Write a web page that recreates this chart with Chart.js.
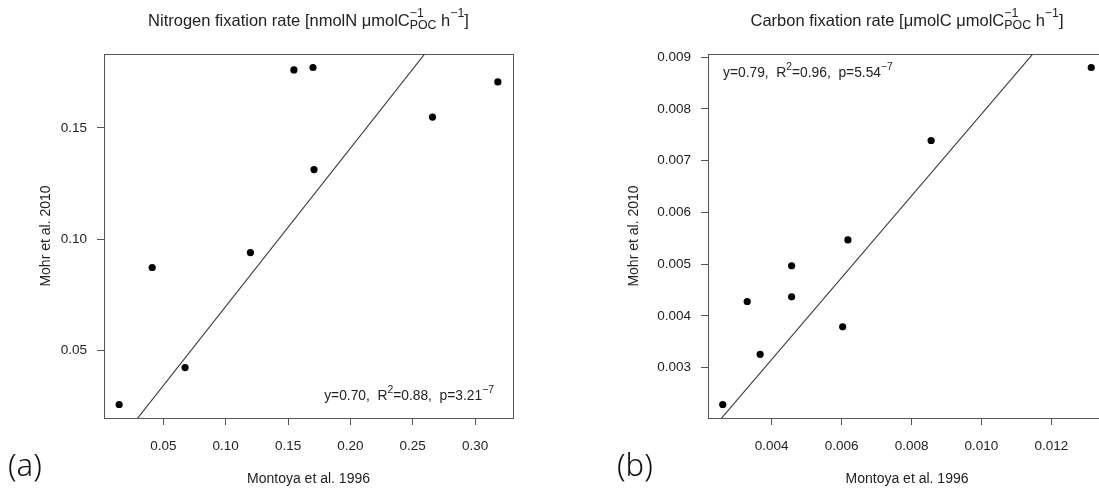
<!DOCTYPE html>
<html>
<head>
<meta charset="utf-8">
<script src="https://cdn.jsdelivr.net/npm/chart.js@4.4.1/dist/chart.umd.min.js"></script>
<style>
  html, body { margin: 0; padding: 0; background: #fff; overflow: hidden; }
  body { width: 1099px; height: 490px; position: relative; }
  .panel { position: absolute; top: 0; height: 490px; overflow: hidden; }
  #panelA { left: 0; width: 530px; }
  #panelB { left: 550px; width: 549px; }
  .tag { position: absolute; top: 449px; font-family: "Noto Sans", sans-serif; font-weight: 300; font-size: 31px; color: #111; line-height: 1; }
</style>
</head>
<body>
<div class="panel" id="panelA"><canvas id="chartA" width="530" height="490"></canvas></div>
<div class="panel" id="panelB"><canvas id="chartB" width="570" height="490"></canvas></div>
<div class="tag" style="left:8px">(a)</div>
<div class="tag" style="left:617px">(b)</div>
<script>
// (a) nitrogen fixation, Montoya et al. 1996 vs Mohr et al. 2010
const montoyaN = [0.0145, 0.041, 0.0674, 0.1198, 0.1547, 0.170, 0.1708, 0.2659, 0.3183];
const mohrN    = [0.0257, 0.0873, 0.0423, 0.0940, 0.1761, 0.1772, 0.1313, 0.1549, 0.1707];
const fitN = [0.711, -0.0013]; // slope, intercept
const xTicksN = [0.05, 0.10, 0.15, 0.20, 0.25, 0.30];
const yTicksN = [0.05, 0.10, 0.15];

// (b) carbon fixation
const montoyaC = [0.0026, 0.0033, 0.00367, 0.00457, 0.00457, 0.00603, 0.00618, 0.00856, 0.01314];
const mohrC    = [0.00229, 0.00428, 0.00326, 0.00497, 0.00437, 0.00379, 0.00547, 0.00739, 0.0088];
const fitC = [0.79, 0];
const xTicksC = [0.004, 0.006, 0.008, 0.010, 0.012];
const yTicksC = [0.003, 0.004, 0.005, 0.006, 0.007, 0.008, 0.009];

const FONT = '"Liberation Sans", Arial, sans-serif';
const INK = '#222';
const AXIS = '#555';

// R-style axis range: data range padded by 4% on each side
function rRange(vals) {
    const lo = Math.min(...vals), hi = Math.max(...vals);
    const pad = (hi - lo) * 0.04;
    return [lo - pad, hi + pad];
}

// text with superscripts / subscripts; parts are strings or {sup, sub}
function richWidth(ctx, parts, size) {
    let w = 0;
    parts.forEach(p => {
        if (typeof p === 'string') {
            ctx.font = size + 'px ' + FONT;
            w += ctx.measureText(p).width;
        } else {
            ctx.font = (size * 0.75) + 'px ' + FONT;
            w += Math.max(p.sup ? ctx.measureText(p.sup).width : 0, p.sub ? ctx.measureText(p.sub).width : 0);
        }
    });
    return w;
}

function drawRich(ctx, parts, x, y, size, align) {
    const w = richWidth(ctx, parts, size);
    let cx = align === 'center' ? x - w / 2 : align === 'right' ? x - w : x;
    ctx.save();
    ctx.fillStyle = INK;
    ctx.textBaseline = 'middle';
    ctx.textAlign = 'left';
    parts.forEach(p => {
        if (typeof p === 'string') {
            ctx.font = size + 'px ' + FONT;
            ctx.fillText(p, cx, y);
            cx += ctx.measureText(p).width;
        } else {
            ctx.font = (size * 0.75) + 'px ' + FONT;
            let w2 = 0;
            if (p.sup) { ctx.fillText(p.sup, cx, y - size * 0.42); w2 = ctx.measureText(p.sup).width; }
            if (p.sub) { ctx.fillText(p.sub, cx, y + size * 0.3); w2 = Math.max(w2, ctx.measureText(p.sub).width); }
            cx += w2;
        }
    });
    ctx.restore();
}

// box around the plot region, panel title and fit annotation
const decorPlugin = {
    id: 'decor',
    afterDraw(chart, args, opts) {
        const { ctx, chartArea: a } = chart;
        ctx.save();
        ctx.strokeStyle = AXIS;
        ctx.lineWidth = 1;
        ctx.strokeRect(Math.round(a.left) + 0.5, Math.round(a.top) + 0.5,
            Math.round(a.right - a.left), Math.round(a.bottom - a.top));
        ctx.restore();
        drawRich(ctx, opts.title, (a.left + a.right) / 2, 21, 16.5, 'center');
        const n = opts.note;
        const nx = n.align === 'right' ? a.right - n.dx : a.left + n.dx;
        const ny = n.fromBottom ? a.bottom - n.dy : a.top + n.dy;
        drawRich(ctx, n.parts, nx, ny, 13.8, n.align);
    }
};

function makeChart(id, xs, ys, fit, xTicks, yTicks, xDigits, yDigits, cfg) {
    const xr = rRange(xs), yr = rRange(ys);
    const pts = xs.map((x, i) => ({ x: x, y: ys[i] }));
    const fitLine = xr.map(x => ({ x: x, y: fit[0] * x + fit[1] }));
    const tickFont = { family: FONT, size: 13.5 };
    const titleFont = { family: FONT, size: 14 };
    return new Chart(document.getElementById(id), {
        type: 'scatter',
        data: {
            datasets: [
                { data: pts, pointRadius: 3.6, pointBackgroundColor: '#000', pointBorderWidth: 0 },
                { type: 'line', data: fitLine, borderColor: '#3a3a3a', borderWidth: 1.1, pointRadius: 0, fill: false }
            ]
        },
        options: {
            responsive: false,
            animation: false,
            devicePixelRatio: 1,
            layout: { padding: { top: 54, right: cfg.padRight, left: 0, bottom: 0 } },
            plugins: {
                legend: { display: false },
                tooltip: { enabled: false },
                decor: { title: cfg.title, note: cfg.note }
            },
            scales: {
                x: {
                    type: 'linear', min: xr[0], max: xr[1],
                    afterBuildTicks: s => { s.ticks = xTicks.map(v => ({ value: v })); },
                    afterFit: s => { s.height = 72; },
                    grid: { drawOnChartArea: false, tickLength: 7, tickColor: AXIS },
                    border: { color: AXIS },
                    ticks: { callback: v => v.toFixed(xDigits), color: INK, font: tickFont, padding: 13, maxRotation: 0, autoSkip: false },
                    title: { display: true, text: 'Montoya et al. 1996', color: INK, font: titleFont, padding: { bottom: 2 } }
                },
                y: {
                    type: 'linear', min: yr[0], max: yr[1],
                    afterBuildTicks: s => { s.ticks = yTicks.map(v => ({ value: v })); },
                    afterFit: s => { s.width = cfg.yWidth; },
                    grid: { drawOnChartArea: false, tickLength: 7, tickColor: AXIS },
                    border: { color: AXIS },
                    ticks: { callback: v => v.toFixed(yDigits), color: INK, font: tickFont, padding: 10, autoSkip: false },
                    title: { display: true, text: 'Mohr et al. 2010', color: INK, font: titleFont, padding: { top: cfg.yTitlePad } }
                }
            }
        },
        plugins: [decorPlugin]
    });
}

makeChart('chartA', montoyaN, mohrN, fitN, xTicksN, yTicksN, 2, 2, {
    padRight: 17, yWidth: 104, yTitlePad: 38,
    title: ['Nitrogen fixation rate [nmolN \u03bcmolC', { sup: '\u22121', sub: 'POC' }, ' h', { sup: '\u22121' }, ']'],
    note: { parts: ['y=0.70,  R', { sup: '2' }, '=0.88,  p=3.21', { sup: '\u22127' }], align: 'right', dx: 19, dy: 22, fromBottom: true }
});

// right panel runs past the window edge, as in the source figure
makeChart('chartB', montoyaC, mohrC, fitC, xTicksC, yTicksC, 3, 3, {
    padRight: 14, yWidth: 158, yTitlePad: 76,
    title: ['Carbon fixation rate [\u03bcmolC \u03bcmolC', { sup: '\u22121', sub: 'POC' }, ' h', { sup: '\u22121' }, ']'],
    note: { parts: ['y=0.79,  R', { sup: '2' }, '=0.96,  p=5.54', { sup: '\u22127' }], align: 'left', dx: 15, dy: 19, fromBottom: false }
});
</script>
</body>
</html>
